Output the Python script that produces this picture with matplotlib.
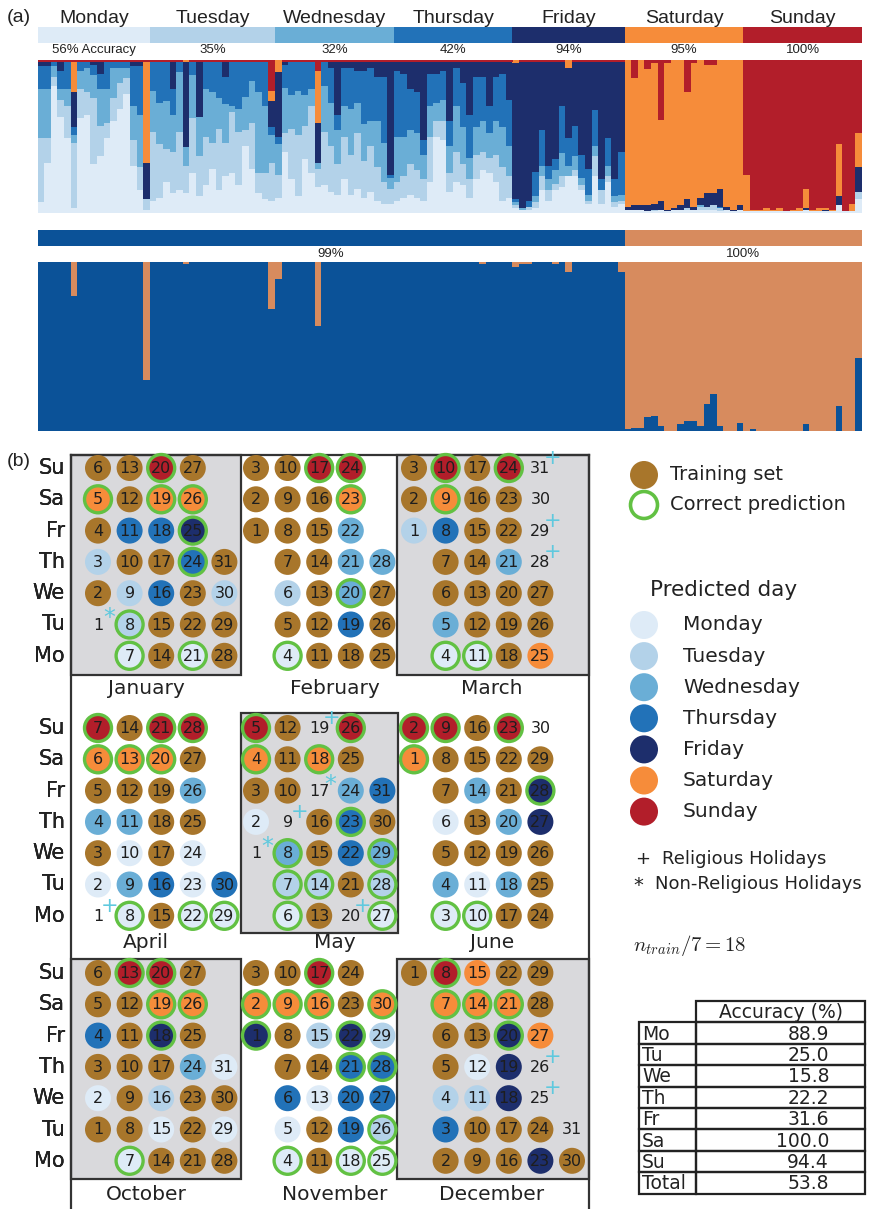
import calendar
import datetime
import numpy as np
import matplotlib.pyplot as plt
from matplotlib.patches import Circle, Rectangle

plt.rcParams["mathtext.fontset"] = "cm"

W, H = 872, 1209

day_names = ["Monday", "Tuesday", "Wednesday", "Thursday", "Friday", "Saturday", "Sunday"]
day_short = ["Mo", "Tu", "We", "Th", "Fr", "Sa", "Su"]
day_colors = ["#deebf7", "#b3d2e9", "#6aaed6", "#2272b8", "#1d2e6c", "#f68c3a", "#b21e2a"]
accuracy_labels = ["56% Accuracy", "35%", "32%", "42%", "94%", "95%", "100%"]

# panel (a), top: predicted share (%) for Mo..Su, one row per test day, grouped by true day
monday_bars = [
    [7, 42, 32, 15, 3, 0, 1], [33, 16, 32, 15, 3, 0, 1], [83, 6, 7, 3, 0, 0, 1],
    [63, 11, 7, 12, 6, 0, 1], [49, 21, 11, 18, 0, 0, 1], [3, 43, 5, 5, 23, 20, 1],
    [62, 19, 12, 6, 0, 0, 1], [64, 15, 16, 4, 0, 0, 1], [32, 43, 15, 7, 2, 0, 1],
    [37, 20, 24, 10, 8, 0, 1], [49, 10, 22, 18, 0, 0, 1], [60, 15, 20, 4, 0, 0, 1],
    [68, 17, 10, 4, 0, 0, 1], [78, 10, 7, 4, 0, 0, 1], [31, 17, 22, 26, 3, 0, 1],
    [15, 15, 34, 32, 3, 0, 1], [2, 7, 0, 0, 24, 66, 1],
]
tuesday_bars = [
    [8, 45, 27, 19, 0, 0, 1], [10, 35, 27, 27, 0, 0, 1], [20, 22, 31, 26, 0, 0, 1],
    [13, 27, 24, 17, 18, 0, 1], [15, 38, 39, 7, 0, 0, 1], [13, 18, 12, 0, 56, 1, 0],
    [26, 36, 28, 9, 0, 0, 1], [11, 26, 26, 0, 36, 0, 1], [18, 32, 31, 18, 0, 0, 1],
    [29, 17, 33, 20, 0, 0, 1], [15, 40, 20, 24, 0, 0, 1], [24, 22, 25, 18, 10, 0, 1],
    [26, 40, 4, 29, 0, 0, 1], [18, 35, 15, 31, 0, 0, 1], [44, 10, 22, 23, 0, 0, 1],
    [29, 30, 27, 13, 0, 0, 1], [13, 13, 53, 20, 0, 0, 1], [9, 17, 44, 29, 0, 0, 1],
    [8, 25, 18, 5, 17, 7, 20],
]
wednesday_bars = [
    [10, 15, 20, 5, 42, 8, 0], [40, 12, 30, 15, 2, 0, 1], [22, 33, 22, 22, 0, 0, 1],
    [11, 40, 29, 19, 0, 0, 1], [35, 22, 20, 22, 0, 0, 1], [26, 44, 11, 18, 0, 0, 1],
    [17, 12, 4, 0, 26, 34, 7], [18, 35, 30, 16, 0, 0, 1], [14, 30, 28, 23, 4, 0, 1],
    [12, 20, 22, 10, 35, 0, 1], [22, 28, 20, 25, 4, 0, 1], [12, 26, 30, 27, 4, 0, 1],
    [16, 36, 20, 21, 6, 0, 1], [10, 24, 24, 35, 6, 0, 1], [14, 30, 16, 35, 4, 0, 1],
    [8, 22, 30, 29, 10, 0, 1], [6, 14, 26, 43, 10, 0, 1], [6, 10, 7, 2, 74, 0, 1],
]
thursday_bars = [
    [8, 12, 30, 43, 6, 0, 1], [10, 14, 26, 41, 8, 0, 1], [12, 20, 22, 27, 18, 0, 1],
    [10, 18, 24, 27, 20, 0, 1], [8, 14, 16, 10, 51, 0, 1], [20, 30, 20, 21, 8, 0, 1],
    [50, 10, 12, 19, 8, 0, 1], [48, 12, 14, 19, 6, 0, 1], [14, 12, 18, 16, 39, 0, 1],
    [20, 20, 30, 25, 4, 0, 1], [18, 14, 24, 29, 14, 0, 1], [10, 12, 14, 28, 35, 0, 1],
    [22, 16, 18, 33, 10, 0, 1], [28, 12, 20, 29, 10, 0, 1], [26, 10, 16, 18, 29, 0, 1],
    [20, 18, 22, 29, 10, 0, 1], [8, 22, 26, 35, 8, 0, 1], [10, 14, 20, 30, 25, 0, 1],
]
friday_bars = [
    [3, 2, 2, 2, 89, 2, 0], [2, 0, 1, 0, 96, 0, 1], [2, 2, 0, 4, 91, 0, 1],
    [3, 4, 4, 16, 72, 0, 1], [15, 9, 7, 23, 45, 0, 1], [8, 7, 7, 9, 68, 0, 1],
    [15, 4, 9, 7, 64, 0, 1], [17, 7, 15, 31, 29, 0, 1], [24, 0, 7, 18, 46, 5, 0],
    [24, 4, 9, 20, 42, 0, 1], [15, 3, 5, 15, 61, 0, 1], [6, 2, 4, 17, 70, 0, 1],
    [24, 13, 7, 23, 32, 0, 1], [6, 9, 0, 7, 77, 0, 1], [20, 4, 7, 18, 50, 0, 1],
    [4, 3, 4, 11, 77, 0, 1], [6, 2, 4, 28, 59, 0, 1],
]
saturday_bars = [
    [2, 0, 0, 0, 2, 96, 0], [2, 0, 0, 0, 3, 83, 12], [2, 0, 0, 0, 3, 95, 0],
    [1, 0, 0, 0, 4, 89, 6], [1, 1, 0, 0, 4, 92, 2], [2, 0, 0, 0, 6, 53, 39],
    [1, 0, 0, 0, 1, 96, 2], [2, 0, 0, 0, 1, 97, 0], [2, 0, 0, 0, 3, 95, 0],
    [2, 1, 0, 0, 6, 70, 21], [2, 0, 0, 0, 2, 94, 2], [2, 2, 1, 0, 5, 90, 0],
    [2, 2, 0, 0, 9, 84, 3], [2, 3, 0, 0, 8, 84, 3], [1, 2, 0, 1, 12, 84, 0],
    [2, 0, 0, 0, 2, 96, 0], [1, 0, 0, 0, 1, 98, 0], [2, 0, 0, 0, 3, 95, 0],
]
sunday_bars = [
    [1, 0, 0, 0, 0, 24, 75], [1, 0, 0, 0, 0, 1, 98], [1, 0, 0, 0, 0, 1, 98],
    [1, 0, 0, 0, 0, 2, 97], [1, 0, 0, 0, 0, 1, 98], [1, 0, 0, 0, 0, 2, 97],
    [1, 0, 0, 0, 0, 0, 99], [1, 0, 0, 0, 0, 1, 98], [1, 0, 0, 0, 0, 2, 97],
    [2, 0, 0, 0, 1, 13, 84], [1, 0, 0, 0, 0, 1, 98], [1, 0, 0, 0, 0, 2, 97],
    [1, 0, 0, 0, 1, 1, 97], [1, 0, 0, 0, 0, 1, 98], [5, 0, 0, 0, 6, 34, 55],
    [1, 0, 0, 0, 0, 0, 99], [1, 0, 0, 0, 0, 5, 94], [9, 5, 0, 0, 16, 22, 48],
]
top_groups = [monday_bars, tuesday_bars, wednesday_bars, thursday_bars,
              friday_bars, saturday_bars, sunday_bars]

# panel (a), bottom: weekday share per test day (rest is weekend)
weekday_share_weekdays = [
    1, 1, 1, 1, 1, .80, 1, 1, 1, 1, 1, 1, 1, 1, 1, 1, .30,
    1, 1, 1, 1, 1, .99, 1, 1, 1, 1, 1, 1, 1, 1, 1, 1, 1, 1, .72,
    .90, 1, 1, 1, 1, 1, .62, 1, 1, 1, 1, 1, 1, 1, 1, 1, 1, 1,
    1, 1, 1, 1, 1, 1, 1, 1, 1, 1, 1, 1, 1, .99, 1, 1, 1, 1,
    .97, .99, .99, 1, 1, 1, .99, 1, .94, 1, 1, 1, 1, 1, 1, 1, .94,
]
weekday_share_weekend = [
    .01, .02, .02, .08, .09, .03, 0, 0, .04, .06, .06, .03, .16, .22, .03, 0, 0, .05,
    0, .01, 0, 0, 0, 0, 0, 0, 0, .04, 0, 0, 0, 0, .15, 0, 0, .43,
]
binary_labels = ["99%", "100%"]
binary_colors = ["#0b5298", "#d78b5e"]

# panel (b): calendar 2019
# x training set, . no data, m t w h f s u = predicted day, upper case = correct prediction
cal_year = 2019
cal_months = [1, 2, 3, 4, 5, 6, 10, 11, 12]
cal_codes = {
    1: ".xtxSxM Ttxhxxx xhxhSUM xxHFSxx xtx",
    2: "xxxMxtx xxxxxxx xxUxhWw wSUxxxw",
    3: "txxMwxx hSUMxxx xxxxxxw xxUsxx. ...",
    4: ".mxwxSU MwmwxSx xhxxxSU MmmxwxU Mh",
    5: ".mxSUMT W.xxxxT xx.S..x hHwxUMT Wxh",
    6: "SUMwxmx xUMmxxw xxxwxwx xUxxxfF x.",
    10: "xmxhxxM xxxxxUx mtxFSUx xxwxSxx mxm",
    11: "FSxMmhx xSxxxmx tSUMhhH FxxMThH tS",
    12: "xxhtxxS UxxtmxS sxxffFS xfx..sx xx.",
}
religious = {3: [28, 29, 31], 4: [1], 5: [9, 19, 20], 12: [25, 26]}
non_religious = {1: [1], 5: [1, 17]}

table_rows = ["Mo", "Tu", "We", "Th", "Fr", "Sa", "Su", "Total"]
table_acc = [88.9, 25.0, 15.8, 22.2, 31.6, 100.0, 94.4, 53.8]

train_color = "#a8762b"
ring_color = "#62c143"
box_color = "#d9d9dc"
holiday_color = "#5fc9de"

fig = plt.figure(figsize=(W / 100, H / 100), dpi=100)


def px_axes(x0, y0, x1, y1):
    return fig.add_axes([x0 / W, 1 - y1 / H, (x1 - x0) / W, (y1 - y0) / H])


# ---------- panel (b) canvas in pixel units ----------
ax = fig.add_axes([0, 0, 1, 1])
ax.set_xlim(0, W)
ax.set_ylim(H, 0)
ax.axis("off")

# ---------- panel (a) ----------
probs = np.array([row for g in top_groups for row in g], dtype=float)
probs = probs / probs.sum(axis=1, keepdims=True)
n_bars = len(probs)
xs = np.arange(n_bars)
counts = [len(g) for g in top_groups]
starts = np.concatenate([[0], np.cumsum(counts)[:-1]])

x_left, x_right = 37.7, 862

ax_top = px_axes(x_left, 60, x_right, 213)
bottom = np.zeros(n_bars)
for j in range(7):
    ax_top.bar(xs, probs[:, j], bottom=bottom, width=1.02, color=day_colors[j], linewidth=0)
    bottom += probs[:, j]
ax_top.set_xlim(-0.5, n_bars - 0.5)
ax_top.set_ylim(0, 1)
ax_top.axis("off")

ax_strip = px_axes(x_left, 27, x_right, 43)
for j in range(7):
    xc = starts[j] + counts[j] / 2 - 0.5
    ax_strip.barh(0, counts[j], left=starts[j] - 0.5, height=1, color=day_colors[j], linewidth=0)
    ax_strip.text(xc, 1.05, day_names[j], ha="center", va="center",
                  fontsize=14, family="Liberation Sans", color="#222222")
    ax_strip.text(xc, -0.55, accuracy_labels[j], ha="center",
                  va="top", fontsize=9.5, family="Liberation Sans", color="#222222")
ax_strip.set_xlim(-0.5, n_bars - 0.5)
ax_strip.set_ylim(-0.5, 0.5)
ax_strip.axis("off")

weekday_share = np.array(weekday_share_weekdays + weekday_share_weekend, dtype=float)
n_wd = len(weekday_share_weekdays)

ax_bin = px_axes(x_left, 262, x_right, 431)
ax_bin.bar(xs, weekday_share, width=1.02, color=binary_colors[0], linewidth=0)
ax_bin.bar(xs, 1 - weekday_share, bottom=weekday_share, width=1.02, color=binary_colors[1], linewidth=0)
ax_bin.set_xlim(-0.5, n_bars - 0.5)
ax_bin.set_ylim(0, 1)
ax_bin.axis("off")

ax_bstrip = px_axes(x_left, 230, x_right, 246)
bin_counts = [n_wd, n_bars - n_wd]
bin_starts = [0, n_wd]
for j in range(2):
    ax_bstrip.barh(0, bin_counts[j], left=bin_starts[j] - 0.5, height=1, color=binary_colors[j], linewidth=0)
    ax_bstrip.text(bin_starts[j] + bin_counts[j] / 2 - 0.5, -0.6, binary_labels[j], ha="center",
                   va="top", fontsize=9.5, family="Liberation Sans", color="#222222")
ax_bstrip.set_xlim(-0.5, n_bars - 0.5)
ax_bstrip.set_ylim(-0.5, 0.5)
ax_bstrip.axis("off")

ax.text(7, 18, "(a)", fontsize=14, family="Liberation Sans", va="center", color="#222222")

# ---------- panel (b) calendar ----------
ax.text(7, 461, "(b)", fontsize=14, family="Liberation Sans", va="center", color="#222222")

col_x0, col_dx = 98, 31.6
row_y0 = [468, 728, 973]
row_dy = 31.3
box_x = [(70.7, 240.7), (240.7, 398), (397, 589)]
box_y = [(455, 675), (713, 933), (959, 1179)]
label_x = [146, 335, 492]
label_y = [688, 942, 1195]
r_dot = 13

for i, m in enumerate(cal_months):
    b, r = i % 3, i // 3
    if (b + r) % 2 == 0:
        ax.add_patch(Rectangle((box_x[b][0], box_y[r][0]), box_x[b][1] - box_x[b][0],
                               box_y[r][1] - box_y[r][0], facecolor=box_color,
                               edgecolor="#333333", linewidth=1.6, zorder=1))
    ax.text(label_x[b], label_y[r], calendar.month_name[m], ha="center", va="center",
            fontsize=14.5, color="#222222", zorder=5)

    first_wd = datetime.date(cal_year, m, 1).weekday()
    codes = cal_codes[m].replace(" ", "")
    ndays = calendar.monthrange(cal_year, m)[1]
    assert len(codes) == ndays, m
    for d in range(1, ndays + 1):
        wd = (first_wd + d - 1) % 7
        col = (first_wd + d - 1) // 7
        x = col_x0 + (5 * b + col) * col_dx
        y = row_y0[r] + (6 - wd) * row_dy
        code = codes[d - 1]
        if code == "x":
            ax.add_patch(Circle((x, y), r_dot, facecolor=train_color, edgecolor="none", zorder=3))
        elif code != ".":
            c = day_colors["mtwhfsu".index(code.lower())]
            ax.add_patch(Circle((x, y), r_dot, facecolor=c, edgecolor="none", zorder=3))
        if code.isupper():
            ax.add_patch(Circle((x, y), r_dot + 0.5, facecolor="none", edgecolor=ring_color,
                                linewidth=2.4, zorder=4))
        ax.text(x, y + 0.5, str(d), ha="center", va="center", fontsize=11.5,
                color="#1e1e1e", zorder=5)
        if d in religious.get(m, []):
            ax.text(x + 12, y - 10, "+", ha="center", va="center", fontsize=15,
                    color=holiday_color, zorder=6)
        if d in non_religious.get(m, []):
            ax.text(x + 11, y - 6, "*", ha="center", va="center", fontsize=17,
                    color=holiday_color, zorder=6)

    for wd in range(7):
        ax.text(65, row_y0[r] + (6 - wd) * row_dy, day_short[wd], ha="right", va="center",
                fontsize=15, color="#222222")

# outer frame
ax.plot([70.7, 70.7], [455, H], color="#333333", lw=1.6, zorder=2)
ax.plot([589, 589], [455, H], color="#333333", lw=1.6, zorder=2)
ax.plot([70.7, 589], [455, 455], color="#333333", lw=1.6, zorder=2)

# legend
ax.add_patch(Circle((644, 475), r_dot + 1, facecolor=train_color, edgecolor="none"))
ax.text(670, 475, "Training set", va="center", fontsize=14, color="#222222")
ax.add_patch(Circle((644, 505), r_dot + 0.5, facecolor="white", edgecolor=ring_color, linewidth=2.6))
ax.text(670, 505, "Correct prediction", va="center", fontsize=14, color="#222222")
ax.text(650, 590, "Predicted day", va="center", fontsize=15.5, color="#222222")
for j in range(7):
    yy = 625 + j * 31.1
    ax.add_patch(Circle((644, yy), r_dot + 1, facecolor=day_colors[j], edgecolor="none"))
    ax.text(683, yy, day_names[j], va="center", fontsize=14.5, color="#222222")
ax.text(643, 859, "+", ha="center", va="center", fontsize=13, color="#222222")
ax.text(662, 859, "Religious Holidays", va="center", fontsize=13, color="#222222")
ax.text(638, 886, "*", ha="center", va="center", fontsize=14, color="#222222")
ax.text(655, 884, "Non-Religious Holidays", va="center", fontsize=13, color="#222222")
ax.text(633, 946, r"$n_{train}/7 = 18$", va="center", fontsize=15, color="#222222")

# accuracy table
tx0, tx1, tx2 = 639, 696, 865
ty0, th = 1001, 21.4
ax.add_patch(Rectangle((tx1, ty0), tx2 - tx1, th, facecolor="none", edgecolor="#222222", lw=1.6))
ax.text((tx1 + tx2) / 2, ty0 + th / 2 + 1, "Accuracy (%)", ha="center", va="center",
        fontsize=13.5, color="#222222")
for k, (name, val) in enumerate(zip(table_rows, table_acc)):
    yy = ty0 + th * (k + 1)
    ax.add_patch(Rectangle((tx0, yy), tx1 - tx0, th, facecolor="none", edgecolor="#222222", lw=1.6))
    ax.add_patch(Rectangle((tx1, yy), tx2 - tx1, th, facecolor="none", edgecolor="#222222", lw=1.6))
    ax.text(tx0 + 3, yy + th / 2 + 1, name, va="center", fontsize=13.5, color="#222222")
    ax.text(829, yy + th / 2 + 1, f"{val:.1f}", ha="right", va="center", fontsize=13.5,
            color="#222222")

fig.savefig("out.png", dpi=100)
